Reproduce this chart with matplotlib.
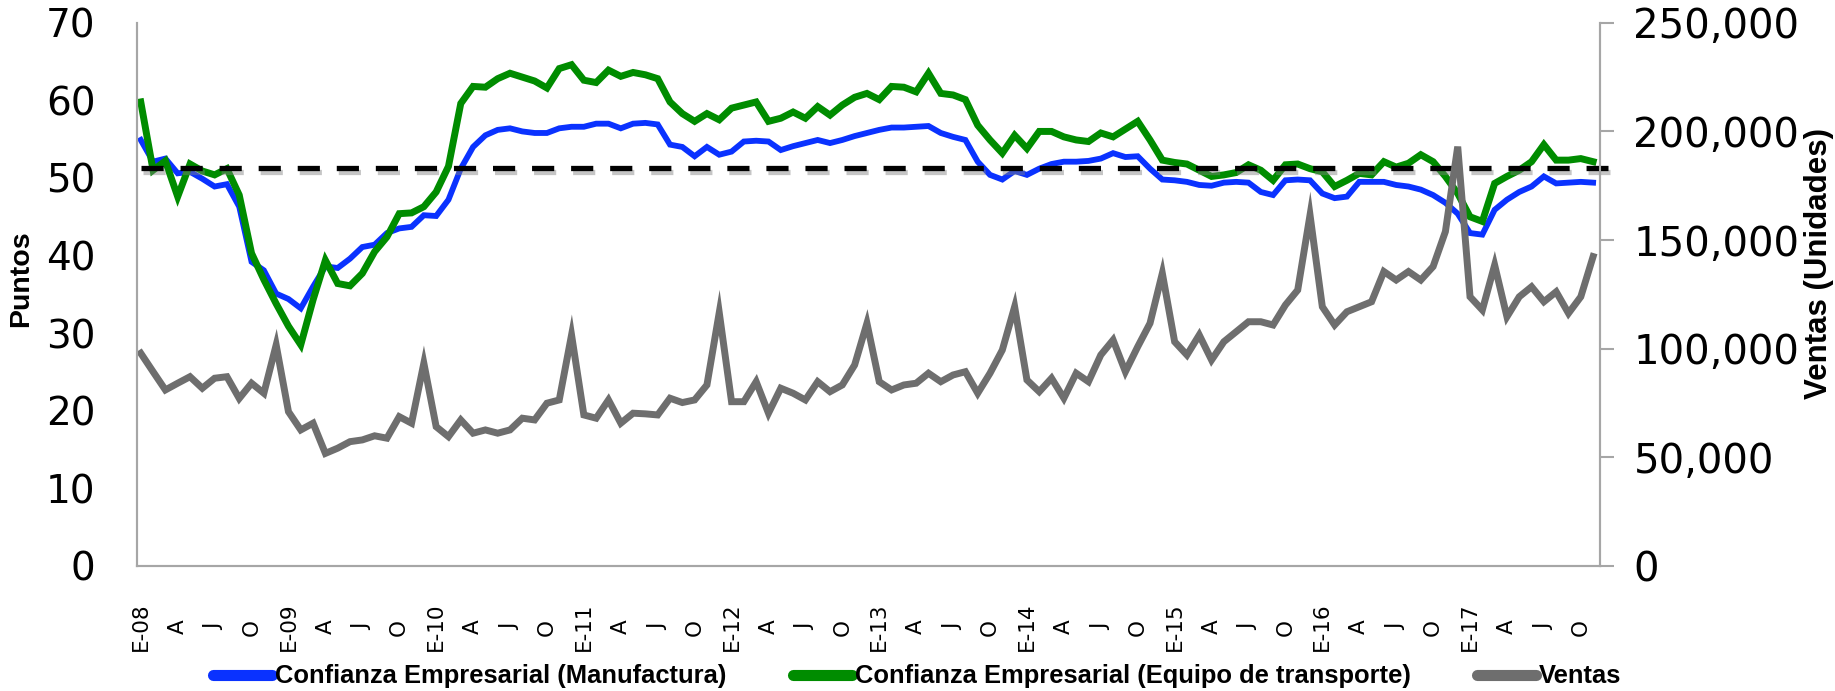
import matplotlib
matplotlib.use('Agg')
import matplotlib.pyplot as plt
import matplotlib.patheffects as pe
import matplotlib.ticker as mticker
import numpy as np

# ── Series (mensual, E-08 .. N-17) ──
manufactura = [
    54.9, 52.1, 52.5, 50.6, 50.8, 49.9, 48.9, 49.2, 46.3, 39.2, 38.1, 35.1,
    34.4, 33.2, 36.0, 38.6, 38.4, 39.6, 41.1, 41.4, 42.9, 43.5, 43.7, 45.2,
    45.1, 47.2, 51.2, 54.0, 55.5, 56.2, 56.4, 56.0, 55.8, 55.8, 56.4, 56.6,
    56.6, 57.0, 57.0, 56.4, 57.0, 57.1, 56.9, 54.3, 54.0, 52.8, 54.0, 53.0,
    53.4, 54.7, 54.8, 54.7, 53.6, 54.1, 54.5, 54.9, 54.5, 54.9, 55.4, 55.8,
    56.2, 56.5, 56.5, 56.6, 56.7, 55.8, 55.3, 54.9, 52.1, 50.4, 49.8, 50.9,
    50.4, 51.2, 51.8, 52.1, 52.1, 52.2, 52.5, 53.2, 52.7, 52.8, 51.2, 49.8,
    49.7, 49.5, 49.1, 49.0, 49.4, 49.5, 49.4, 48.2, 47.8, 49.7, 49.8, 49.7,
    48.0, 47.4, 47.6, 49.5, 49.5, 49.5, 49.1, 48.9, 48.5, 47.8, 46.8, 45.4,
    42.9, 42.7, 45.9, 47.2, 48.2, 48.9, 50.2, 49.3, 49.4, 49.5, 49.4,
]
transporte = [
    59.8, 51.0, 52.2, 47.6, 51.8, 50.9, 50.4, 51.2, 47.8, 40.3, 36.9, 33.8,
    30.9, 28.5, 34.3, 39.4, 36.4, 36.1, 37.7, 40.5, 42.4, 45.4, 45.5, 46.3,
    48.2, 51.5, 59.6, 61.8, 61.7, 62.8, 63.5, 63.0, 62.5, 61.6, 64.1, 64.6,
    62.6, 62.3, 63.9, 63.1, 63.6, 63.3, 62.8, 59.8, 58.3, 57.3, 58.3, 57.5,
    59.0, 59.4, 59.8, 57.3, 57.7, 58.5, 57.7, 59.2, 58.1, 59.4, 60.4, 60.9,
    60.1, 61.8, 61.7, 61.1, 63.5, 60.9, 60.7, 60.1, 56.8, 54.9, 53.2, 55.5,
    53.8, 56.0, 56.0, 55.3, 54.9, 54.7, 55.8, 55.3, 56.3, 57.3, 54.9, 52.3,
    52.0, 51.8, 51.0, 50.2, 50.4, 50.7, 51.7, 51.0, 49.7, 51.7, 51.8, 51.2,
    50.8, 48.9, 49.7, 50.6, 50.4, 52.1, 51.4, 51.9, 53.0, 52.1, 50.2, 48.0,
    45.0, 44.4, 49.3, 50.2, 51.0, 52.1, 54.3, 52.3, 52.3, 52.5, 52.1,
]
ventas = [
    97900, 89400, 81000, 84100, 87100, 81800, 86400, 87100, 77100, 84100, 79500, 101700,
    71000, 62600, 65700, 51800, 54200, 57200, 58000, 59900, 58800, 68700, 65700, 93300,
    64100, 59500, 67200, 61100, 62600, 61100, 62600, 68000, 67200, 74900, 76400, 106300,
    69500, 68000, 76400, 65700, 70300, 70000, 69500, 77200, 75200, 76400, 83300, 116600,
    75600, 75600, 84800, 70300, 81800, 79500, 76400, 84800, 80200, 83300, 92500, 111700,
    84800, 81000, 83300, 84100, 88700, 84800, 87900, 89400, 79500, 88700, 99400, 119300,
    85600, 80200, 86400, 77200, 88700, 84800, 97100, 104000, 89400, 100900, 111700, 134700,
    103200, 97100, 106300, 94800, 103200, 107800, 112400, 112400, 110900, 120100, 127000, 161500,
    119300, 110900, 117000, 119300, 121600, 135500, 131600, 135500, 131600, 137800, 153900, 193000,
    123900, 117800, 138500, 114700, 123900, 128500, 121600, 126200, 116300, 123900, 142400,
]
umbral = 51.35  # linea de referencia (puntos)

tick_labels = [
    'E-08', 'A', 'J', 'O', 'E-09', 'A', 'J', 'O', 'E-10', 'A', 'J', 'O',
    'E-11', 'A', 'J', 'O', 'E-12', 'A', 'J', 'O', 'E-13', 'A', 'J', 'O',
    'E-14', 'A', 'J', 'O', 'E-15', 'A', 'J', 'O', 'E-16', 'A', 'J', 'O',
    'E-17', 'A', 'J', 'O',
]

BLUE = '#0a32ff'
GREEN = '#008c00'
GREY = '#6e6e6e'
AXIS = '#a6a6a6'

months = np.arange(len(manufactura))

fig = plt.figure(figsize=(18.35, 6.91), dpi=100)
ax = fig.add_axes([0.0747, 0.181, 0.7973, 0.786])
ax2 = ax.twinx()

l1, = ax.plot(months, manufactura, color=BLUE, lw=4.2, solid_joinstyle='miter')
l2, = ax.plot(months, transporte, color=GREEN, lw=5, solid_joinstyle='miter')
ax.hlines(umbral, months[0], months[-1] + 1.2, colors='black', lw=3.8,
          linestyles=(0, (4.2, 3.2)), clip_on=False, zorder=5,
          path_effects=[pe.SimpleLineShadow(offset=(1.5, -3), shadow_color='#808080', alpha=0.45),
                        pe.Normal()])
l3, = ax2.plot(months, ventas, color=GREY, lw=5, solid_joinstyle='miter')

ax.set_xlim(-0.3, len(months) - 0.43)
ax.set_ylim(0, 70)
ax2.set_ylim(0, 250000)

ax.set_yticks(np.arange(0, 71, 10))
ax2.set_yticks(np.arange(0, 250001, 50000))
ax2.yaxis.set_major_formatter(mticker.FuncFormatter(lambda v, p: f'{v:,.0f}'))

ax.set_xticks(months[::3])
ax.set_xticklabels(tick_labels, rotation=90, va='center', fontsize=15.5)
ax.tick_params(axis='x', length=0, pad=44)
ax.tick_params(axis='y', length=0, pad=30, labelsize=28)
ax2.tick_params(axis='y', length=10, width=1.5, color=AXIS, pad=14, labelsize=29, direction='out')

for a in (ax, ax2):
    a.spines['top'].set_visible(False)
    for s in ('left', 'right', 'bottom'):
        a.spines[s].set_color(AXIS)
        a.spines[s].set_linewidth(1.5)

fig.text(0.0115, 0.597, 'Puntos', rotation=90, ha='center', va='center',
         fontsize=20.5, fontweight='bold', family='Liberation Sans')
fig.text(0.9915, 0.618, 'Ventas (Unidades)', rotation=90, ha='center', va='center',
         fontsize=22.5, fontweight='bold', family='Liberation Sans')

leg = fig.legend([l1, l2, l3],
                 ['Confianza Empresarial (Manufactura)',
                  'Confianza Empresarial (Equipo de transporte)', 'Ventas'],
                 loc='center', bbox_to_anchor=(0.5, 0.021), ncol=3, frameon=False,
                 handlelength=2.3, handletextpad=0.12, columnspacing=2.6,
                 prop={'family': 'Liberation Sans', 'weight': 'bold', 'size': 18.4})
for h in leg.legend_handles:
    h.set_linewidth(8)
    h.set_solid_capstyle('round')

fig.savefig('out.png', dpi=100)
